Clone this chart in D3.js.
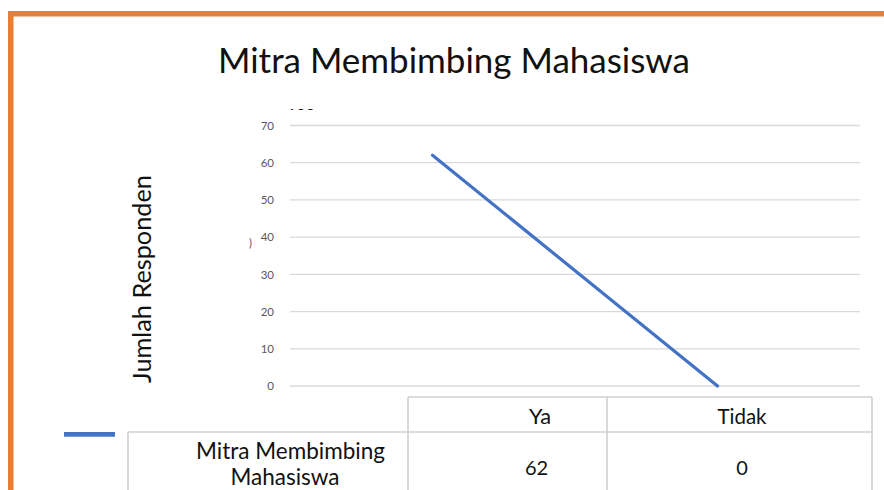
<!DOCTYPE html>
<html>
<head>
<meta charset="utf-8">
<script src="https://cdn.jsdelivr.net/npm/d3@7"></script>
<style>
  html, body { margin: 0; padding: 0; background: #fff; }
  svg { display: block; }
  text { font-family: Lato, "Open Sans", "Liberation Sans", sans-serif; }
</style>
</head>
<body>
<svg id="chart" width="884" height="490"></svg>
<script>
// ---- data ----
const chartTitle = "Mitra Membimbing Mahasiswa";
const yAxisTitle = "Jumlah Responden";
const seriesName = "Mitra Membimbing Mahasiswa";
const categories = ["Ya", "Tidak"];
const values = [62, 0];
const yTicks = [0, 10, 20, 30, 40, 50, 60, 70];
const yDomain = [0, 70];

// ---- layout ----
const W = 884, H = 490;
const plot = { left: 290, right: 860, top: 125.5, bottom: 386 };
const svg = d3.select("#chart");

function fitWidth(sel, target) {
  const base = parseFloat(sel.attr("font-size"));
  const w = sel.node().getComputedTextLength();
  if (w > 0) sel.attr("font-size", base * target / w);
  return sel;
}

// orange frame (top & left edges)
svg.append("rect").attr("x", 8).attr("y", 11).attr("width", W - 8).attr("height", 5.5).attr("fill", "#ED7D31");
svg.append("rect").attr("x", 8).attr("y", 11).attr("width", 5.5).attr("height", H - 11).attr("fill", "#ED7D31");

// title
const title = svg.append("text").attr("x", 454).attr("y", 73)
  .attr("text-anchor", "middle").attr("font-size", 33).attr("fill", "#111")
  .text(chartTitle);
fitWidth(title, 472);

// scales
const x = d3.scaleBand().domain(categories).range([plot.left, plot.right]).padding(0);
const y = d3.scaleLinear().domain(yDomain).range([plot.bottom, plot.top]);

// gridlines
svg.append("g").selectAll("line").data(yTicks).join("line")
  .attr("x1", plot.left).attr("x2", plot.right)
  .attr("y1", d => y(d)).attr("y2", d => y(d))
  .attr("stroke", "#D9D9D9").attr("stroke-width", 1.3);

// y axis labels via d3 axis
const yAxis = d3.axisLeft(y).tickValues(yTicks).tickSize(0).tickPadding(0);
const gy = svg.append("g").attr("transform", `translate(274,0)`).call(yAxis);
gy.select(".domain").remove();
gy.selectAll("text").attr("font-size", 11.5).attr("fill", "#595959")
  .attr("font-family", "Lato, 'Open Sans', sans-serif");

// clipped remnants near the axis
svg.append("clipPath").attr("id", "clip100").append("rect")
  .attr("x", 280).attr("y", 107).attr("width", 45).attr("height", 3);
svg.append("text").attr("x", 301).attr("y", 119.5).attr("text-anchor", "middle")
  .attr("font-size", 16).attr("fill", "#111").attr("clip-path", "url(#clip100)").text("100");
svg.append("clipPath").attr("id", "clipParen").append("rect")
  .attr("x", 248).attr("y", 238).attr("width", 6).attr("height", 12);
svg.append("text").attr("x", 249).attr("y", 247)
  .attr("font-size", 11).attr("fill", "#555").attr("clip-path", "url(#clipParen)").text(")");

// y axis title
const yt = svg.append("text")
  .attr("transform", "translate(151,279) rotate(-90)")
  .attr("text-anchor", "middle").attr("font-size", 22).attr("fill", "#111")
  .text(yAxisTitle);
fitWidth(yt, 208);

// line series
const pts = categories.map((c, i) => [x(c) + x.bandwidth() / 2, y(values[i])]);
svg.append("path").datum(pts)
  .attr("d", d3.line())
  .attr("fill", "none").attr("stroke", "#4472C4").attr("stroke-width", 3.2)
  .attr("stroke-linecap", "round");

// data table
const tbl = svg.append("g");
const border = "#D0D0D0", bw = 1.6;
const hdrTop = 397, rowTop = 432, rowBot = 495;
const tLeft = 408, tDiv = 607, tRight = 872, rowLeft = 128;
const hl = (x1, y1, x2, y2) => tbl.append("line").attr("x1", x1).attr("y1", y1).attr("x2", x2).attr("y2", y2)
  .attr("stroke", border).attr("stroke-width", bw);
hl(tLeft, hdrTop, tRight, hdrTop);
hl(rowLeft, rowTop, tRight, rowTop);
hl(tLeft, hdrTop, tLeft, rowBot);
hl(tDiv, hdrTop, tDiv, rowBot);
hl(tRight, hdrTop, tRight, rowBot);
hl(rowLeft, rowTop, rowLeft, rowBot);

const colCenters = [540, 742];
const hdrW = [22, 49];
categories.forEach((c, i) => {
  const t = tbl.append("text").attr("x", colCenters[i]).attr("y", 424)
    .attr("text-anchor", "middle").attr("font-size", 20).attr("fill", "#111").text(c);
  fitWidth(t, hdrW[i]);
});
values.forEach((v, i) => {
  tbl.append("text").attr("x", i === 0 ? 536.5 : 742).attr("y", 475)
    .attr("text-anchor", "middle").attr("font-size", 20).attr("fill", "#111").text(v);
});

// series name cell with legend key
svg.append("rect").attr("x", 64).attr("y", 432).attr("width", 51).attr("height", 4.7).attr("fill", "#4472C4");
const words = seriesName.split(" ");
const l1 = tbl.append("text").attr("x", 290.5).attr("y", 459).attr("text-anchor", "middle")
  .attr("font-size", 20).attr("fill", "#111").text(words.slice(0, 2).join(" "));
fitWidth(l1, 189);
const l2 = tbl.append("text").attr("x", 285).attr("y", 485).attr("text-anchor", "middle")
  .attr("font-size", l1.attr("font-size")).attr("fill", "#111").text(words.slice(2).join(" "));
</script>
</body>
</html>
